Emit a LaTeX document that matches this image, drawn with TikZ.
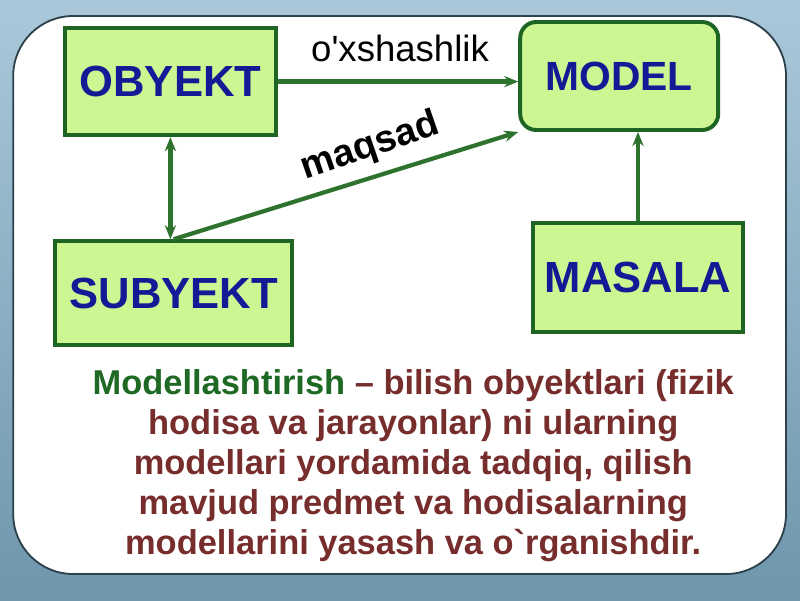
\documentclass[tikz,border=0pt]{standalone}
\usepackage{fontspec}
\setmainfont{Liberation Sans}
\usepackage{tikz}
\usetikzlibrary{arrows.meta, positioning}
\definecolor{boxfill}{RGB}{205,245,145}
\definecolor{boxline}{RGB}{30,100,35}
\definecolor{arrowgreen}{RGB}{45,115,45}
\definecolor{titleblue}{RGB}{20,25,150}
\definecolor{defgreen}{RGB}{30,105,35}
\definecolor{defred}{RGB}{120,45,45}
\definecolor{panelline}{RGB}{45,65,75}
\definecolor{bgtop}{RGB}{170,200,218}
\definecolor{bgbottom}{RGB}{110,150,172}
\tikzset{
    concept/.style={rectangle, draw=boxline, line width=2.8pt, fill=boxfill, text=titleblue, text centered, font=\fontsize{31}{36}\selectfont\bfseries},
    flow/.style={-{Stealth[length=10pt,width=8pt]}, line width=3pt, color=arrowgreen},
    twoway/.style={{Stealth[length=10pt,width=8pt]}-{Stealth[length=10pt,width=8pt]}, line width=3pt, color=arrowgreen}
}

\begin{document}
\begin{tikzpicture}[
    label/.style={text=black, font=\fontsize{26}{30}\selectfont},
    definition/.style={align=center, text=defred, font=\fontsize{24.5}{28.4}\selectfont\bfseries}
]
    % Background and panel
    \fill[top color=bgtop, bottom color=bgbottom] (0,0) rectangle (20,-15);
    \useasboundingbox (0,0) rectangle (20,-15);
    \draw[panelline, line width=1.3pt, fill=white, rounded corners=1.5cm] (0.33,-0.4) rectangle (19.65,-14.35);

    % Boxes
    \node[concept, minimum width=5.28cm, minimum height=2.68cm] (obyekt) at (4.26,-2.04) {OBYEKT};
    \node[concept, rounded corners=0.4cm, minimum width=4.95cm, minimum height=2.7cm, font=\fontsize{29}{34}\selectfont\bfseries] (model) at (15.48,-1.9) {MODEL};
    \node[concept, minimum width=5.93cm, minimum height=2.6cm] (subyekt) at (4.34,-7.33) {SUBYEKT};
    \node[concept, minimum width=5.25cm, minimum height=2.73cm] (masala) at (15.95,-6.94) {MASALA};

    % Connections
    \draw[flow] (obyekt.east) -- (obyekt.east -| model.west);
    \draw[twoway] (obyekt.south) -- (obyekt.south |- subyekt.north);
    \draw[flow] (subyekt.north) -- (model.south west);
    \draw[flow] (masala.north) -- (masala.north |- model.south);

    % Labels
    \node[label] (similar) at (10,-1.2) {o\textquotesingle xshashlik};
    \node[label, font=\fontsize{27}{31}\selectfont\bfseries, rotate=19] (goal) at (9.25,-3.68) {maqsad};

    % Definition
    \node[definition] (text) at (10.33,-11.65) {%
        \textcolor{defgreen}{Modellashtirish} \textendash{} bilish obyektlari (fizik\\
        hodisa va jarayonlar) ni ularning\\
        modellari yordamida tadqiq, qilish\\
        mavjud predmet va hodisalarning\\
        modellarini yasash va o\textasciigrave rganishdir.};
\end{tikzpicture}
\end{document}
